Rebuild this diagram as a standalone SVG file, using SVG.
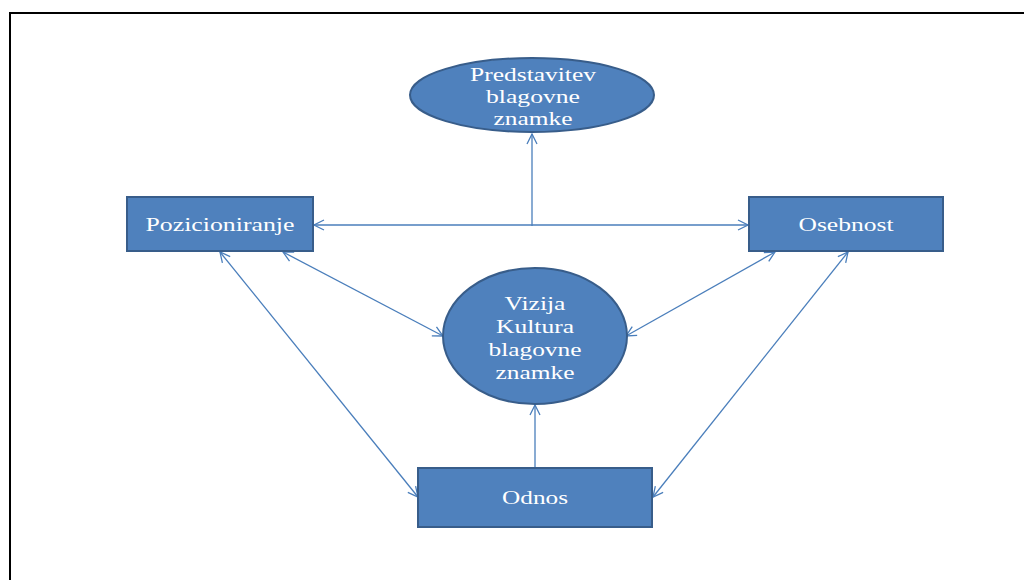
<svg xmlns="http://www.w3.org/2000/svg" width="1024" height="580" viewBox="0 0 1024 580">
<style>
.n{fill:#4f81bd;stroke:#385d8a;stroke-width:2}
.t{font-family:"Liberation Serif","Times New Roman",serif;font-size:19px;fill:#fff;text-anchor:middle}
.c{stroke:#4a7ebb;stroke-width:1.3;fill:none}
</style>
<defs>
<marker id="a" viewBox="0 0 12 12" refX="11" refY="6" markerWidth="12" markerHeight="12" markerUnits="userSpaceOnUse" orient="auto-start-reverse">
<path d="M1,1 L11,6 L1,11" fill="none" stroke="#4a7ebb" stroke-width="1.3"/>
</marker>
</defs>
<rect width="1024" height="580" fill="#fff"/>
<path d="M10,580 V13 H1024" fill="none" stroke="#000" stroke-width="2"/>
<g id="connectors">
<line class="c" x1="532" y1="226" x2="532" y2="134" marker-end="url(#a)"/>
<line class="c" x1="314" y1="225" x2="748" y2="225" marker-start="url(#a)" marker-end="url(#a)"/>
<line class="c" x1="283" y1="252" x2="443" y2="336" marker-start="url(#a)" marker-end="url(#a)"/>
<line class="c" x1="220" y1="252" x2="418" y2="497" marker-start="url(#a)" marker-end="url(#a)"/>
<line class="c" x1="775" y1="252" x2="626" y2="336" marker-start="url(#a)" marker-end="url(#a)"/>
<line class="c" x1="848" y1="252" x2="653" y2="497" marker-start="url(#a)" marker-end="url(#a)"/>
<line class="c" x1="535" y1="467" x2="535" y2="405" marker-end="url(#a)"/>
</g>
<g id="predstavitev">
<ellipse class="n" cx="532" cy="95" rx="122" ry="37"/>
<text class="t" x="533" y="81" textLength="126" lengthAdjust="spacingAndGlyphs">Predstavitev</text>
<text class="t" x="533" y="103" textLength="94" lengthAdjust="spacingAndGlyphs">blagovne</text>
<text class="t" x="533" y="125" textLength="79" lengthAdjust="spacingAndGlyphs">znamke</text>
</g>
<g id="pozicioniranje">
<rect class="n" x="127" y="197" width="186" height="54"/>
<text class="t" x="220" y="231" textLength="149" lengthAdjust="spacingAndGlyphs">Pozicioniranje</text>
</g>
<g id="osebnost">
<rect class="n" x="749" y="197" width="194" height="54"/>
<text class="t" x="846" y="231" textLength="95" lengthAdjust="spacingAndGlyphs">Osebnost</text>
</g>
<g id="vizija">
<ellipse class="n" cx="535" cy="336" rx="92" ry="68"/>
<text class="t" x="535" y="310" textLength="61" lengthAdjust="spacingAndGlyphs">Vizija</text>
<text class="t" x="535" y="333" textLength="78" lengthAdjust="spacingAndGlyphs">Kultura</text>
<text class="t" x="535" y="356" textLength="93" lengthAdjust="spacingAndGlyphs">blagovne</text>
<text class="t" x="535" y="379" textLength="79" lengthAdjust="spacingAndGlyphs">znamke</text>
</g>
<g id="odnos">
<rect class="n" x="418" y="468" width="234" height="59"/>
<text class="t" x="535" y="504" textLength="66" lengthAdjust="spacingAndGlyphs">Odnos</text>
</g>
</svg>
